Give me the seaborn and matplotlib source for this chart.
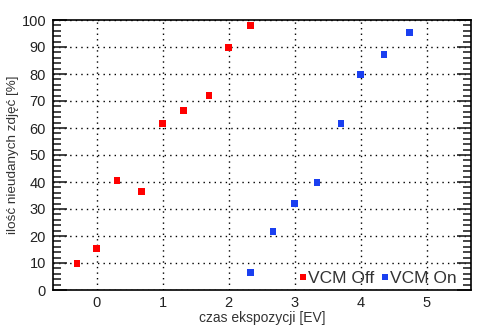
import matplotlib
matplotlib.use("Agg")
import matplotlib.pyplot as plt
import seaborn as sns
import pandas as pd
from matplotlib.ticker import MultipleLocator

off_x = [-0.30, 0.0, 0.31, 0.68, 1.0, 1.32, 1.70, 2.0, 2.33]
off_y = [9.9, 15.4, 40.6, 36.5, 61.7, 66.5, 72.1, 89.9, 98.0]
on_x = [2.33, 2.67, 3.0, 3.34, 3.70, 4.0, 4.35, 4.74]
on_y = [6.5, 21.7, 32.1, 39.9, 61.7, 79.9, 87.3, 95.4]
series_names = ["VCM Off", "VCM On"]
colors = ["#ff0000", "#1a3ff0"]
x_label = "czas ekspozycji [EV]"
y_label = "ilość nieudanych zdjęć [%]"

df = pd.concat([
    pd.DataFrame({"x": off_x, "y": off_y, "s": series_names[0]}),
    pd.DataFrame({"x": on_x, "y": on_y, "s": series_names[1]}),
])

sns.set_style("white")
plt.rcParams["font.family"] = ["Liberation Sans", "DejaVu Sans"]
plt.rcParams["text.color"] = "#222222"

fig = plt.figure(figsize=(4.94, 3.31), dpi=100)
ax = fig.add_axes([53 / 494, 1 - 290 / 331, 418 / 494, 270 / 331])
sns.scatterplot(data=df, x="x", y="y", hue="s", palette=colors, marker="s",
                s=22, linewidth=0, ax=ax, legend=True)
for c in ax.collections:
    c.set_zorder(5)
ax.set_axisbelow(True)

ax.set_xlim(-0.66, 5.67)
ax.set_ylim(0, 100)
ax.xaxis.set_major_locator(MultipleLocator(1))
ax.yaxis.set_major_locator(MultipleLocator(10))
ax.yaxis.set_minor_locator(MultipleLocator(2))
ax.grid(True, which="major", color="black", linestyle=(0, (1, 3)), linewidth=1, zorder=0)
ax.tick_params(axis="x", which="both", length=0, labelsize=10.5, colors="#222222", pad=4)
ax.tick_params(axis="y", which="major", direction="in", length=10, width=1.2,
               left=True, right=True, labelsize=10.5, colors="#222222", pad=5)
ax.tick_params(axis="y", which="minor", direction="in", length=5.5, width=1.2,
               left=True, right=True)
ax.tick_params(axis="y", labelcolor="#222222")
for sp in ax.spines.values():
    sp.set_color("black")
    sp.set_linewidth(1.2)
ax.set_xlabel(x_label, fontsize=10, color="#333333", labelpad=1)
ax.set_ylabel(y_label, fontsize=9.7, color="#333333", labelpad=2)

leg = ax.legend(loc="lower right", bbox_to_anchor=(0.99, -0.025), ncol=2, frameon=False,
                fontsize=12.5, handletextpad=0.0, columnspacing=0.3, markerscale=0.8,
                handlelength=0.6, borderaxespad=0.2)
for t in leg.get_texts():
    t.set_color("#333333")

fig.savefig("out.png", dpi=100)
